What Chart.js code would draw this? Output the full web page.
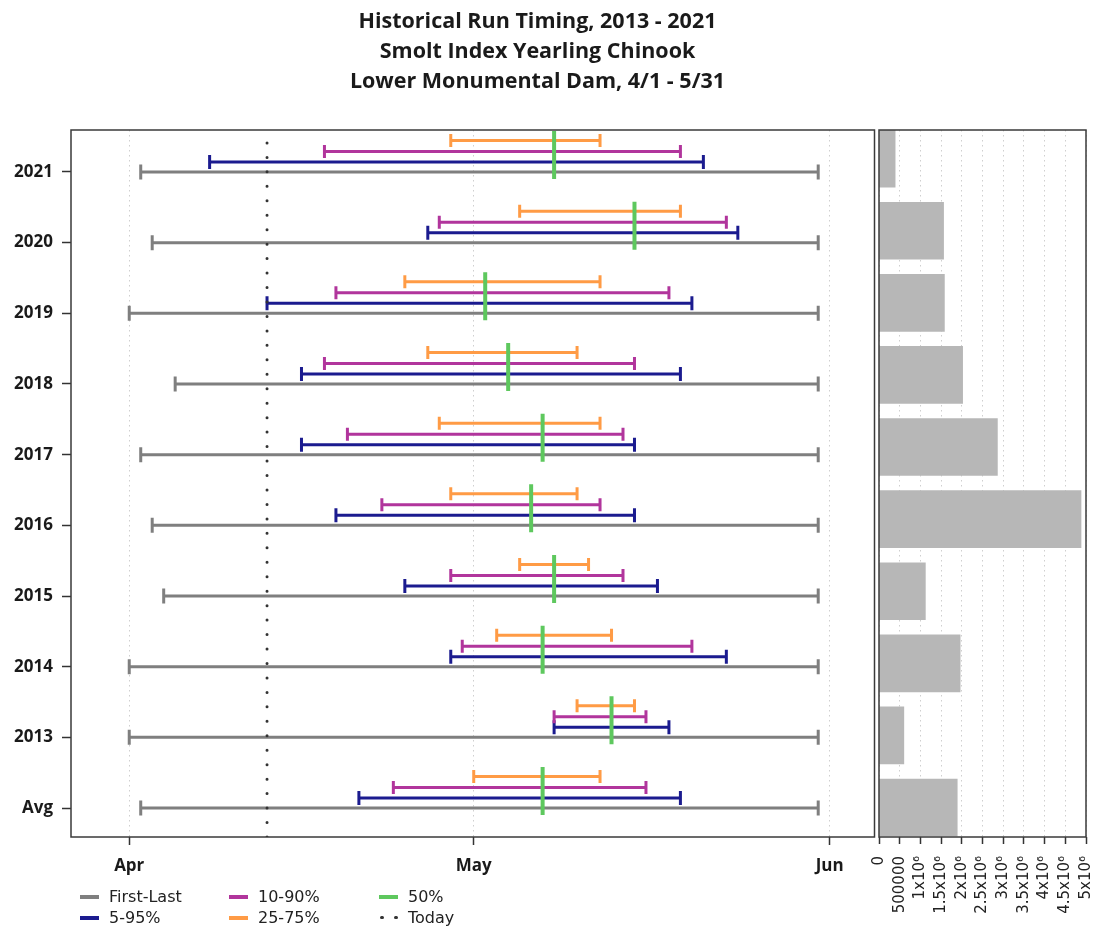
<!DOCTYPE html>
<html>
<head>
<meta charset="utf-8">
<title>Historical Run Timing</title>
<script src="https://cdn.jsdelivr.net/npm/chart.js@4.4.1/dist/chart.umd.min.js"></script>
<style>
  body { margin: 0; background: #fff; width: 1103px; height: 930px; position: relative; overflow: hidden; }
  #timingCanvas { position: absolute; left: 0; top: 0; }
  #totalsCanvas { position: absolute; left: 860px; top: 0; }
  #title {
    position: absolute; left: 0; top: 4.5px; width: 1075px; text-align: center;
    font: bold 21.5px/30px "Open Sans", sans-serif; color: #1a1a1a;
  }
  .legendItem {
    position: absolute; height: 20px; line-height: 20px; white-space: nowrap;
    font: 16px "DejaVu Sans", sans-serif; color: #222;
  }
  .swatch { display: inline-block; position: relative; width: 19px; height: 4px; vertical-align: middle; margin-right: 10px; margin-top: -2px; }
  .dot { position: absolute; top: 0; width: 3.5px; height: 3.5px; border-radius: 50%; background: #333; }
</style>
</head>
<body>
<canvas id="timingCanvas" width="885" height="930"></canvas>
<canvas id="totalsCanvas" width="243" height="930"></canvas>
<div id="title">Historical Run Timing, 2013 - 2021<br>Smolt Index Yearling Chinook<br>Lower Monumental Dam, 4/1 - 5/31</div>
<div id="legend"></div>

<script>
//  DATA (rows bottom to top; days counted from Apr 1: 0 = 4/1, 30 = 5/1, 60 = 5/31)
const rowLabels = ["Avg", "2013", "2014", "2015", "2016", "2017", "2018", "2019", "2020", "2021"];
const firstDay = [1, 0, 0, 3, 2, 1, 4, 0, 2, 1];
const lastDay = [60, 60, 60, 60, 60, 60, 60, 60, 60, 60];
const p5Day = [20, 37, 28, 24, 18, 15, 15, 12, 26, 7];
const p95Day = [48, 47, 52, 46, 44, 44, 48, 49, 53, 50];
const p10Day = [23, 37, 29, 28, 22, 19, 17, 18, 27, 17];
const p90Day = [45, 45, 49, 43, 41, 43, 44, 47, 52, 48];
const p25Day = [30, 39, 32, 34, 28, 27, 26, 24, 34, 28];
const p75Day = [41, 44, 42, 40, 39, 41, 39, 41, 48, 41];
const p50Day = [36, 42, 36, 37, 35, 36, 33, 31, 44, 37];
const todayDay = 12;

const monthTicks = [0, 30, 61];
const monthLabels = ["Apr", "May", "Jun"];

// total fish counted per row
const totalFish = [1890000, 600000, 1960000, 1120000, 4880000, 2860000, 2020000, 1580000, 1560000, 390000];
const totalTicks = [0, 500000, 1000000, 1500000, 2000000, 2500000, 3000000, 3500000, 4000000, 4500000, 5000000];
const totalTickLabels = ["0", "500000", "1x10⁶", "1.5x10⁶", "2x10⁶", "2.5x10⁶", "3x10⁶", "3.5x10⁶", "4x10⁶", "4.5x10⁶", "5x10⁶"];

//  Styling
const colors = {
  firstLast: "#7f7f7f",
  p5: "#1b1b8f",
  p10: "#b1359c",
  p25: "#ff9b45",
  p50: "#5ec85e",
  today: "#333333",
};
const yMin = -0.41, yMax = 9.594;
const xMin = -5.072, xMax = 64.902;

Chart.defaults.font.family = "'Open Sans', sans-serif";
Chart.defaults.color = "#222";

// frame around the plot area
const frameBox = {
  id: "frameBox",
  afterDraw(chart) {
    const { ctx, chartArea: a } = chart;
    ctx.save();
    ctx.strokeStyle = "#3a3a3a";
    ctx.lineWidth = 1.5;
    ctx.strokeRect(a.left, a.top, a.right - a.left, a.bottom - a.top);
    ctx.restore();
  },
};

// build one capped range line per row, rows split by a gap point
function rangePoints(starts, ends, offset) {
  const pts = [];
  starts.forEach((s, i) => {
    pts.push({ x: s, y: i + offset }, { x: ends[i], y: i + offset }, { x: null, y: null });
  });
  return pts;
}

function rangeDataset(label, starts, ends, offset, color, capRadius) {
  return {
    label,
    data: rangePoints(starts, ends, offset),
    showLine: true,
    borderColor: color,
    borderWidth: 3,
    pointStyle: "line",
    rotation: 90,
    pointRadius: capRadius,
    pointHoverRadius: capRadius,
    pointBorderColor: color,
    pointBorderWidth: 3,
    spanGaps: false,
  };
}

const medianPoints = [];
p50Day.forEach((m, i) => {
  medianPoints.push({ x: m, y: i - 0.099 }, { x: m, y: i + 0.58 }, { x: null, y: null });
});

//  TIMING CHART
new Chart(document.getElementById("timingCanvas"), {
  type: "scatter",
  data: {
    datasets: [
      {
        label: "50%",
        data: medianPoints,
        showLine: true,
        borderColor: colors.p50,
        borderWidth: 4,
        pointRadius: 0,
        spanGaps: false,
      },
      {
        label: "Today",
        data: [{ x: todayDay, y: yMin }, { x: todayDay, y: yMax }],
        showLine: true,
        borderColor: colors.today,
        borderWidth: 3,
        borderDash: [0, 14.46],
        borderCapStyle: "round",
        pointRadius: 0,
      },
      rangeDataset("25-75%", p25Day, p75Day, 0.4456, colors.p25, 6.5),
      rangeDataset("10-90%", p10Day, p90Day, 0.29, colors.p10, 6.5),
      rangeDataset("5-95%", p5Day, p95Day, 0.1415, colors.p5, 7),
      rangeDataset("First-Last", firstDay, lastDay, 0, colors.firstLast, 7.5),
    ],
  },
  options: {
    responsive: false,
    animation: false,
    events: [],
    layout: { padding: { left: 0, top: 130, right: 7, bottom: 0 } },
    plugins: { legend: { display: false }, tooltip: { enabled: false } },
    scales: {
      x: {
        type: "linear",
        min: xMin,
        max: xMax,
        afterBuildTicks: (scale) => {
          scale.ticks = monthTicks.map((v) => ({ value: v }));
        },
        afterFit: (scale) => {
          scale.height = 93;
          scale.paddingLeft = 0;
          scale.paddingRight = 0;
        },
        ticks: {
          autoSkip: false,
          maxRotation: 0,
          padding: 11,
          font: { size: 17, weight: "bold" },
          color: "#1a1a1a",
          callback: (v) => monthLabels[monthTicks.indexOf(v)],
        },
        grid: {
          color: "#cfcfcf",
          lineWidth: 1,
          tickLength: 8,
          tickColor: "#333",
          tickWidth: 1.5,
          tickBorderDash: [],
        },
        border: { display: false, dash: [1.5, 3.5] },
      },
      y: {
        type: "linear",
        min: yMin,
        max: yMax,
        afterBuildTicks: (scale) => {
          scale.ticks = rowLabels.map((_, i) => ({ value: i }));
        },
        afterFit: (scale) => {
          scale.width = 71;
        },
        ticks: {
          padding: 9,
          font: { size: 17, weight: "bold" },
          color: "#1a1a1a",
          callback: (v) => rowLabels[v],
        },
        grid: {
          drawOnChartArea: false,
          tickLength: 9,
          tickColor: "#333",
          tickWidth: 1.5,
        },
        border: { display: false },
      },
    },
  },
  plugins: [frameBox],
});

//  TOTALS CHART (right panel)
new Chart(document.getElementById("totalsCanvas"), {
  type: "bar",
  data: {
    datasets: [
      {
        label: "Total",
        data: totalFish.map((v, i) => ({ x: v, y: i })),
        backgroundColor: "#b7b7b7",
        borderWidth: 0,
        barThickness: 57,
        clip: 0,
      },
    ],
  },
  options: {
    indexAxis: "y",
    responsive: false,
    animation: false,
    events: [],
    layout: { padding: { left: 19, top: 130, right: 17, bottom: 0 } },
    plugins: { legend: { display: false }, tooltip: { enabled: false } },
    scales: {
      x: {
        type: "linear",
        min: 0,
        max: 5000000,
        afterBuildTicks: (scale) => {
          scale.ticks = totalTicks.map((v) => ({ value: v }));
        },
        afterFit: (scale) => {
          scale.height = 93;
          scale.paddingLeft = 0;
          scale.paddingRight = 0;
        },
        ticks: {
          autoSkip: false,
          minRotation: 90,
          maxRotation: 90,
          padding: 12,
          font: { family: "'DejaVu Sans', sans-serif", size: 15 },
          color: "#222",
          callback: (v) => totalTickLabels[totalTicks.indexOf(v)],
        },
        grid: {
          color: "#cfcfcf",
          lineWidth: 1,
          tickLength: 7,
          tickColor: "#333",
          tickWidth: 1.5,
          tickBorderDash: [],
        },
        border: { display: false, dash: [1.5, 3.5] },
      },
      y: {
        type: "linear",
        min: -0.409,
        max: 9.397,
        offset: false,
        display: false,
      },
    },
  },
  plugins: [frameBox],
});

//  LEGEND (bottom left)
const legendItems = [
  { label: "First-Last", color: colors.firstLast, col: 0, row: 0 },
  { label: "5-95%", color: colors.p5, col: 0, row: 1 },
  { label: "10-90%", color: colors.p10, col: 1, row: 0 },
  { label: "25-75%", color: colors.p25, col: 1, row: 1 },
  { label: "50%", color: colors.p50, col: 2, row: 0 },
  { label: "Today", color: null, col: 2, row: 1 },
];
const legendCols = [80, 229, 379];
const legendRows = [897, 918];
const legendBox = document.getElementById("legend");

legendItems.forEach((item) => {
  const div = document.createElement("div");
  div.className = "legendItem";
  div.style.left = legendCols[item.col] + "px";
  div.style.top = legendRows[item.row] - 10 + "px";

  const sw = document.createElement("span");
  sw.className = "swatch";
  if (item.color) {
    sw.style.background = item.color;
  } else {
    [1, 15].forEach((x) => {
      const d = document.createElement("span");
      d.className = "dot";
      d.style.left = x + "px";
      sw.appendChild(d);
    });
  }
  div.appendChild(sw);
  div.appendChild(document.createTextNode(item.label));
  legendBox.appendChild(div);
});
</script>
</body>
</html>
